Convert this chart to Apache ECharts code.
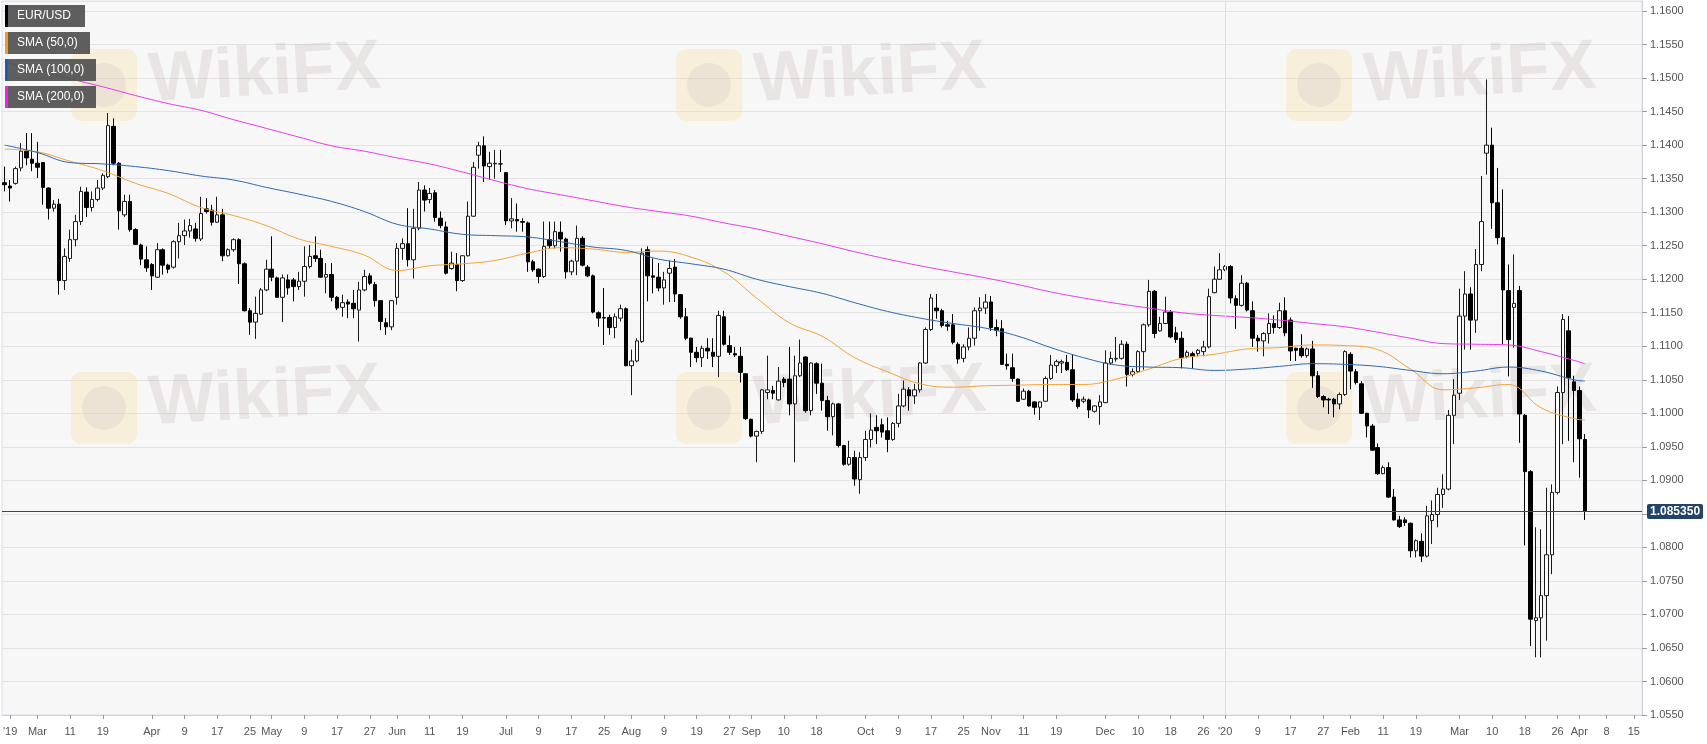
<!DOCTYPE html>
<html>
<head>
<meta charset="utf-8">
<script src="https://cdn.jsdelivr.net/npm/echarts/dist/echarts.min.js"></script>
<style>
html,body{margin:0;padding:0;background:#ffffff;}
#chart{width:1707px;height:744px;}
</style>
</head>
<body>
<div id="chart"></div>
<script>
// ---------- DATA ----------
// Daily EUR/USD candles [open, high, low, close], one per weekday starting 2019-02-21
const candles = [
[1.1344,1.1368,1.1331,1.1341],[1.1339,1.1348,1.1316,1.1336],[1.1343,1.1368,1.1341,1.1365],[1.1366,1.1403,1.1361,1.1391],
[1.1391,1.1418,1.1370,1.1381],[1.1379,1.1418,1.1361,1.1373],[1.1373,1.1405,1.1351,1.1367],[1.1374,1.1375,1.1311,1.1337],
[1.1336,1.1337,1.1289,1.1306],[1.1306,1.1318,1.1301,1.1312],[1.1312,1.1320,1.1177,1.1198],[1.1198,1.1246,1.1184,1.1234],
[1.1231,1.1274,1.1226,1.1259],[1.1259,1.1296,1.1249,1.1286],[1.1286,1.1338,1.1281,1.1331],[1.1330,1.1337,1.1293,1.1307],
[1.1307,1.1331,1.1301,1.1319],[1.1319,1.1348,1.1316,1.1336],[1.1336,1.1358,1.1333,1.1355],[1.1353,1.1448,1.1351,1.1429],
[1.1428,1.1440,1.1370,1.1373],[1.1373,1.1375,1.1274,1.1302],[1.1296,1.1326,1.1293,1.1316],[1.1316,1.1326,1.1271,1.1274],
[1.1274,1.1276,1.1251,1.1252],[1.1251,1.1253,1.1221,1.1230],[1.1229,1.1249,1.1211,1.1217],[1.1222,1.1224,1.1184,1.1205],
[1.1203,1.1254,1.1202,1.1244],[1.1244,1.1246,1.1207,1.1221],[1.1221,1.1223,1.1209,1.1215],[1.1218,1.1258,1.1216,1.1256],
[1.1256,1.1284,1.1231,1.1265],[1.1265,1.1289,1.1251,1.1272],[1.1272,1.1290,1.1262,1.1280],[1.1275,1.1284,1.1256,1.1261],
[1.1260,1.1323,1.1257,1.1298],[1.1305,1.1321,1.1298,1.1301],[1.1303,1.1311,1.1280,1.1285],[1.1285,1.1323,1.1284,1.1296],
[1.1296,1.1305,1.1227,1.1235],[1.1235,1.1246,1.1234,1.1244],[1.1244,1.1261,1.1241,1.1259],[1.1259,1.1261,1.1193,1.1223],
[1.1223,1.1225,1.1152,1.1153],[1.1153,1.1157,1.1117,1.1136],[1.1136,1.1174,1.1111,1.1149],[1.1148,1.1187,1.1147,1.1184],
[1.1184,1.1229,1.1182,1.1215],[1.1215,1.1264,1.1197,1.1203],[1.1202,1.1204,1.1172,1.1173],[1.1173,1.1207,1.1136,1.1202],
[1.1199,1.1207,1.1177,1.1187],[1.1199,1.1202,1.1167,1.1189],[1.1189,1.1211,1.1184,1.1197],[1.1197,1.1249,1.1174,1.1219],
[1.1219,1.1251,1.1216,1.1234],[1.1235,1.1264,1.1226,1.1231],[1.1231,1.1244,1.1202,1.1203],[1.1203,1.1224,1.1179,1.1207],
[1.1207,1.1224,1.1167,1.1173],[1.1173,1.1175,1.1154,1.1157],[1.1158,1.1177,1.1144,1.1165],[1.1166,1.1170,1.1142,1.1163],
[1.1164,1.1184,1.1142,1.1156],[1.1154,1.1196,1.1107,1.1184],[1.1184,1.1214,1.1182,1.1204],[1.1205,1.1209,1.1191,1.1194],
[1.1192,1.1196,1.1159,1.1168],[1.1168,1.1169,1.1124,1.1137],[1.1135,1.1142,1.1117,1.1129],[1.1129,1.1169,1.1124,1.1168],
[1.1173,1.1254,1.1162,1.1246],[1.1246,1.1261,1.1229,1.1253],[1.1253,1.1306,1.1219,1.1229],[1.1229,1.1305,1.1201,1.1276],
[1.1276,1.1345,1.1273,1.1333],[1.1333,1.1340,1.1301,1.1318],[1.1319,1.1336,1.1313,1.1328],[1.1329,1.1333,1.1286,1.1292],
[1.1291,1.1301,1.1276,1.1280],[1.1278,1.1286,1.1207,1.1209],[1.1216,1.1241,1.1214,1.1224],[1.1222,1.1239,1.1182,1.1198],
[1.1198,1.1236,1.1196,1.1235],[1.1235,1.1316,1.1234,1.1294],[1.1294,1.1375,1.1293,1.1367],[1.1385,1.1405,1.1365,1.1399],
[1.1399,1.1413,1.1345,1.1369],[1.1368,1.1390,1.1348,1.1373],[1.1372,1.1393,1.1350,1.1373],[1.1372,1.1393,1.1360,1.1372],
[1.1359,1.1360,1.1281,1.1287],[1.1287,1.1321,1.1276,1.1290],[1.1289,1.1313,1.1271,1.1287],[1.1286,1.1291,1.1271,1.1285],
[1.1284,1.1286,1.1211,1.1226],[1.1226,1.1229,1.1211,1.1214],[1.1215,1.1216,1.1194,1.1204],[1.1204,1.1286,1.1202,1.1249],
[1.1259,1.1286,1.1246,1.1250],[1.1250,1.1286,1.1246,1.1271],[1.1270,1.1286,1.1241,1.1260],[1.1260,1.1262,1.1201,1.1211],
[1.1211,1.1229,1.1206,1.1227],[1.1227,1.1280,1.1206,1.1261],[1.1261,1.1264,1.1219,1.1221],[1.1218,1.1221,1.1203,1.1205],
[1.1205,1.1207,1.1149,1.1151],[1.1150,1.1152,1.1129,1.1142],[1.1143,1.1187,1.1102,1.1142],[1.1143,1.1147,1.1117,1.1128],
[1.1128,1.1149,1.1112,1.1144],[1.1142,1.1162,1.1137,1.1156],[1.1156,1.1158,1.1070,1.1071],[1.1071,1.1095,1.1027,1.1078],
[1.1078,1.1112,1.1076,1.1108],[1.1107,1.1246,1.1105,1.1239],[1.1244,1.1249,1.1167,1.1205],[1.1205,1.1231,1.1179,1.1203],
[1.1203,1.1224,1.1182,1.1187],[1.1187,1.1211,1.1162,1.1199],[1.1209,1.1228,1.1166,1.1216],[1.1218,1.1230,1.1166,1.1178],
[1.1177,1.1178,1.1141,1.1144],[1.1144,1.1157,1.1109,1.1112],[1.1112,1.1113,1.1069,1.1091],[1.1091,1.1099,1.1076,1.1083],
[1.1083,1.1101,1.1069,1.1097],[1.1097,1.1112,1.1081,1.1093],[1.1091,1.1112,1.1069,1.1085],[1.1085,1.1153,1.1054,1.1146],
[1.1144,1.1153,1.1101,1.1103],[1.1101,1.1116,1.1087,1.1091],[1.1089,1.1099,1.1084,1.1087],[1.1085,1.1099,1.1046,1.1061],
[1.1059,1.1060,1.0990,1.0992],[1.0991,1.0992,1.0964,1.0966],[1.0966,1.0974,1.0927,1.0973],[1.0973,1.1036,1.0969,1.1035],
[1.1031,1.1086,1.1021,1.1035],[1.1034,1.1041,1.1021,1.1030],[1.1020,1.1069,1.1019,1.1048],[1.1051,1.1054,1.1039,1.1046],
[1.1051,1.1099,1.0997,1.1014],[1.1014,1.1086,1.0927,1.1056],[1.1056,1.1110,1.1054,1.1075],[1.1084,1.1085,1.1001,1.1004],
[1.1004,1.1076,1.0997,1.1075],[1.1074,1.1076,1.1029,1.1045],[1.1045,1.1074,1.1004,1.1019],[1.1019,1.1026,1.0974,1.0995],
[1.0995,1.1016,1.0967,1.1014],[1.1014,1.1015,1.0949,1.0952],[1.0952,1.0953,1.0922,1.0924],[1.0924,1.0959,1.0922,1.0934],
[1.0934,1.0944,1.0892,1.0902],[1.0901,1.0942,1.0880,1.0934],[1.0934,1.0974,1.0929,1.0961],[1.0961,1.1000,1.0949,1.0975],
[1.0979,1.0997,1.0954,1.0974],[1.0983,1.0992,1.0964,1.0972],[1.0974,1.0994,1.0942,1.0961],[1.0961,1.0987,1.0959,1.0985],
[1.0985,1.1029,1.0979,1.1011],[1.1011,1.1049,1.1009,1.1036],[1.1035,1.1039,1.1004,1.1026],[1.1026,1.1044,1.1014,1.1035],
[1.1035,1.1076,1.1031,1.1075],[1.1075,1.1128,1.1074,1.1125],[1.1125,1.1178,1.1123,1.1172],[1.1157,1.1178,1.1141,1.1153],
[1.1153,1.1156,1.1128,1.1131],[1.1132,1.1138,1.1123,1.1130],[1.1132,1.1148,1.1103,1.1106],[1.1103,1.1106,1.1074,1.1081],
[1.1082,1.1103,1.1076,1.1099],[1.1099,1.1128,1.1094,1.1112],[1.1112,1.1158,1.1101,1.1153],[1.1153,1.1173,1.1123,1.1157],
[1.1157,1.1178,1.1148,1.1166],[1.1166,1.1175,1.1123,1.1128],[1.1128,1.1140,1.1115,1.1124],[1.1126,1.1139,1.1072,1.1073],
[1.1073,1.1089,1.1065,1.1071],[1.1068,1.1089,1.1047,1.1052],[1.1051,1.1052,1.1017,1.1018],[1.1021,1.1037,1.1020,1.1033],
[1.1033,1.1035,1.1010,1.1011],[1.1017,1.1018,1.0998,1.1009],[1.1009,1.1018,1.0990,1.1017],[1.1018,1.1055,1.1017,1.1052],
[1.1052,1.1087,1.1050,1.1072],[1.1071,1.1080,1.1060,1.1077],[1.1075,1.1080,1.1060,1.1077],[1.1076,1.1087,1.1063,1.1065],
[1.1065,1.1087,1.1017,1.1020],[1.1021,1.1030,1.1007,1.1010],[1.1018,1.1025,1.1015,1.1021],[1.1020,1.1022,1.0993,1.1005],
[1.1003,1.1012,1.1001,1.1011],[1.1010,1.1027,1.0983,1.1017],[1.1016,1.1094,1.1015,1.1075],[1.1075,1.1092,1.1072,1.1082],
[1.1081,1.1114,1.1077,1.1082],[1.1082,1.1109,1.1080,1.1103],[1.1103,1.1107,1.1040,1.1058],[1.1058,1.1067,1.1055,1.1062],
[1.1062,1.1094,1.1060,1.1092],[1.1092,1.1134,1.1065,1.1132],[1.1132,1.1199,1.1129,1.1182],[1.1182,1.1184,1.1112,1.1119],
[1.1123,1.1144,1.1122,1.1134],[1.1134,1.1174,1.1133,1.1151],[1.1151,1.1154,1.1112,1.1114],[1.1120,1.1129,1.1105,1.1110],
[1.1112,1.1122,1.1067,1.1083],[1.1085,1.1094,1.1082,1.1091],[1.1089,1.1092,1.1067,1.1085],[1.1089,1.1096,1.1085,1.1094],
[1.1092,1.1108,1.1085,1.1099],[1.1099,1.1186,1.1097,1.1174],[1.1180,1.1219,1.1179,1.1200],[1.1200,1.1239,1.1199,1.1214],
[1.1214,1.1221,1.1212,1.1219],[1.1219,1.1221,1.1164,1.1172],[1.1171,1.1176,1.1126,1.1161],[1.1161,1.1206,1.1159,1.1194],
[1.1194,1.1196,1.1152,1.1154],[1.1153,1.1167,1.1099,1.1112],[1.1112,1.1117,1.1092,1.1108],[1.1108,1.1121,1.1085,1.1119],
[1.1119,1.1149,1.1104,1.1134],[1.1134,1.1146,1.1119,1.1128],[1.1128,1.1165,1.1126,1.1153],[1.1153,1.1173,1.1115,1.1120],
[1.1139,1.1143,1.1078,1.1093],[1.1097,1.1098,1.1078,1.1094],[1.1097,1.1118,1.1083,1.1086],[1.1086,1.1098,1.1083,1.1096],
[1.1096,1.1108,1.1038,1.1056],[1.1056,1.1063,1.1023,1.1025],[1.1025,1.1027,1.1009,1.1020],[1.1021,1.1023,1.0999,1.1020],
[1.1021,1.1023,1.0994,1.1014],[1.1014,1.1031,1.1006,1.1028],[1.1028,1.1094,1.1026,1.1092],[1.1088,1.1091,1.1036,1.1063],
[1.1062,1.1066,1.1043,1.1046],[1.1044,1.1048,1.0999,1.1000],[1.1000,1.1001,1.0964,1.0981],[1.0981,1.0984,1.0944,1.0945],
[1.0949,1.0955,1.0908,1.0910],[1.0910,1.0922,1.0909,1.0919],[1.0919,1.0927,1.0874,1.0875],[1.0875,1.0887,1.0840,1.0841],
[1.0841,1.0847,1.0829,1.0831],[1.0841,1.0845,1.0832,1.0837],[1.0836,1.0837,1.0785,1.0795],[1.0795,1.0812,1.0785,1.0810],
[1.0809,1.0821,1.0778,1.0787],[1.0787,1.0862,1.0785,1.0847],[1.0840,1.0870,1.0805,1.0849],[1.0849,1.0889,1.0830,1.0879],
[1.0879,1.0909,1.0859,1.0887],[1.0887,1.1005,1.0885,1.0997],[1.0997,1.1051,1.0954,1.1027],[1.1030,1.1186,1.1020,1.1145],
[1.1145,1.1212,1.1095,1.1178],[1.1178,1.1188,1.1095,1.1139],[1.1139,1.1245,1.1120,1.1222],[1.1222,1.1354,1.1212,1.1286],
[1.1388,1.1498,1.1356,1.1400],[1.1400,1.1426,1.1275,1.1314],[1.1314,1.1366,1.1252,1.1262],[1.1262,1.1334,1.1103,1.1184],
[1.1183,1.1222,1.1055,1.1110],[1.1158,1.1237,1.1098,1.1164],[1.1183,1.1190,1.0956,1.0999],[1.0997,1.0999,1.0803,1.0913],
[1.0913,1.0915,1.0653,1.0693],[1.0691,1.0830,1.0636,1.0695],[1.0695,1.0827,1.0636,1.0728],[1.0728,1.0889,1.0661,1.0789],
[1.0789,1.0894,1.0760,1.0882],[1.0882,1.1040,1.0879,1.1031],[1.1031,1.1148,1.0954,1.1140],[1.1123,1.1145,1.0959,1.1053],
[1.1047,1.1056,1.0927,1.1034],[1.1034,1.1040,1.0904,1.0962],[1.0961,1.0969,1.0841,1.08535]
];
const lastPrice = 1.08535;

// Moving averages at these day indices
const smaIdx = [0,6,12,18,24,30,36,42,48,54,60,66,72,78,84,90,96,102,108,114,120,126,132,138,144,150,156,162,168,174,180,186,192,198,204,210,216,222,228,234,240,246,252,258,264,270,276,282,288,290];
const sma50 = [1.1394,1.1390,1.1376,1.1362,1.1343,1.1328,1.1307,1.1295,1.1280,1.1260,1.1249,1.1236,1.1213,1.1220,1.1223,1.1228,1.1239,1.1247,1.1245,1.1240,1.1242,1.1233,1.1211,1.1172,1.1135,1.1115,1.1083,1.1062,1.1044,1.1039,1.1041,1.1042,1.1043,1.1043,1.1051,1.1066,1.1082,1.1088,1.1096,1.1098,1.1102,1.1101,1.1095,1.1066,1.1035,1.1038,1.1043,1.1008,1.0992,1.0990];
const sma100 = [1.1400,1.1389,1.1374,1.1372,1.1368,1.1362,1.1354,1.1348,1.1337,1.1327,1.1316,1.1301,1.1282,1.1275,1.1267,1.1265,1.1263,1.1256,1.1248,1.1243,1.1230,1.1223,1.1215,1.1200,1.1189,1.1179,1.1165,1.1152,1.1142,1.1134,1.1127,1.1115,1.1098,1.1083,1.1072,1.1069,1.1068,1.1064,1.1066,1.1070,1.1074,1.1073,1.1070,1.1064,1.1059,1.1063,1.1069,1.1063,1.1050,1.1048];
const sma200 = [1.1524,1.1512,1.1499,1.1487,1.1474,1.1462,1.1452,1.1438,1.1425,1.1412,1.1399,1.1391,1.1381,1.1372,1.1360,1.1347,1.1335,1.1326,1.1317,1.1308,1.1301,1.1294,1.1284,1.1275,1.1264,1.1253,1.1241,1.1230,1.1220,1.1211,1.1202,1.1192,1.1181,1.1172,1.1164,1.1157,1.1150,1.1146,1.1143,1.1139,1.1134,1.1129,1.1121,1.1112,1.1104,1.1103,1.1102,1.1092,1.1079,1.1074];

// x-axis tick labels
const tickDates = ['2019-02-22','2019-03-01','2019-03-11','2019-03-19','2019-04-01','2019-04-09','2019-04-17','2019-04-25','2019-05-01','2019-05-09','2019-05-17','2019-05-27','2019-06-03','2019-06-11','2019-06-19','2019-07-01','2019-07-09','2019-07-17','2019-07-25','2019-08-01','2019-08-09','2019-08-19','2019-08-27','2019-09-02','2019-09-10','2019-09-18','2019-10-01','2019-10-09','2019-10-17','2019-10-25','2019-11-01','2019-11-11','2019-11-19','2019-12-02','2019-12-10','2019-12-18','2019-12-26','2020-01-01','2020-01-09','2020-01-17','2020-01-27','2020-02-03','2020-02-11','2020-02-19','2020-03-02','2020-03-10','2020-03-18','2020-03-26','2020-04-01','2020-04-08','2020-04-15'];
const tickTexts = ["'19",'Mar','11','19','Apr','9','17','25','May','9','17','27','Jun','11','19','Jul','9','17','25','Aug','9','19','27','Sep','10','18','Oct','9','17','25','Nov','11','19','Dec','10','18','26',"'20",'9','17','27','Feb','11','19','Mar','10','18','26','Apr','8','15'];

// Categories: every weekday from 2019-02-21 through 2020-04-16
const dayCount = 301;
const dates = [];
(function () {
  const d = new Date(Date.UTC(2019, 1, 21));
  while (dates.length < dayCount) {
    const wd = d.getUTCDay();
    if (wd !== 0 && wd !== 6) dates.push(d.toISOString().slice(0, 10));
    d.setUTCDate(d.getUTCDate() + 1);
  }
})();

const legendItems = [
  {text: 'EUR/USD', color: '#000000'},
  {text: 'SMA (50,0)', color: '#f39c1d'},
  {text: 'SMA (100,0)', color: '#1f5eae'},
  {text: 'SMA (200,0)', color: '#ee22ee'}
];

// ---------- CHART ----------
const tickMap = new Map(tickDates.map((d, k) => [d, tickTexts[k]]));
const FONT = 'Arial, "Liberation Sans", Helvetica, sans-serif';

const candleData = candles.map(c => [c[0], c[3], c[2], c[1]]);
const mk = arr => smaIdx.map((k, j) => [k, arr[j]]);

const legendW = [80, 85, 91, 91];
const graphics = [];
// faint watermarks
[[71, 49], [676, 49], [1286, 49], [71, 372], [676, 372], [1286, 372]].forEach(p => {
  graphics.push({type: 'rect', z: 1, silent: true, shape: {x: p[0], y: p[1], width: 66, height: 72, r: 10},
    style: {fill: 'rgba(250,222,150,0.30)'}});
  graphics.push({type: 'circle', z: 1, silent: true, shape: {cx: p[0] + 33, cy: p[1] + 36, r: 22},
    style: {fill: 'rgba(200,188,195,0.24)'}});
  graphics.push({type: 'text', z: 1, silent: true, x: p[0] + 80, y: p[1] + 68, rotation: 0.06,
    style: {text: 'WikiFX', font: 'bold 70px ' + FONT, fill: 'rgba(190,175,175,0.25)', textVerticalAlign: 'bottom'}});
});
legendItems.forEach((it, k) => {
  const y = 5 + k * 27;
  graphics.push({type: 'rect', z: 20, shape: {x: 5, y: y, width: legendW[k], height: 22},
    style: {fill: 'rgba(80,80,80,0.92)'}});
  graphics.push({type: 'rect', z: 21, shape: {x: 5, y: y, width: 3, height: 22}, style: {fill: it.color}});
  graphics.push({type: 'text', z: 21, x: 17, y: y + 11,
    style: {text: it.text, font: '12px ' + FONT, fill: '#ffffff', textVerticalAlign: 'middle'}});
});

const chart = echarts.init(document.getElementById('chart'), null, {renderer: 'canvas'});
chart.setOption({
  animation: false,
  backgroundColor: '#ffffff',
  grid: {left: 2, right: 65, top: 1, bottom: 29, show: true, backgroundColor: '#f7f7f7',
    borderColor: '#dcdce8', borderWidth: 1},
  xAxis: {
    type: 'category', data: dates, boundaryGap: true,
    axisLine: {show: true, lineStyle: {color: '#cfcfdb'}},
    axisTick: {show: true, length: 4, alignWithLabel: true, lineStyle: {color: '#999'},
      interval: (i, v) => tickMap.has(v)},
    axisLabel: {color: '#555', fontSize: 11, fontFamily: FONT, margin: 11, hideOverlap: false,
      interval: (i, v) => tickMap.has(v), formatter: v => tickMap.get(v) || ''},
    splitLine: {show: false}
  },
  yAxis: {
    type: 'value', position: 'right', min: 1.055, max: 1.1615, interval: 0.005,
    axisLine: {show: true, lineStyle: {color: '#cfcfdb'}},
    axisTick: {show: true, length: 5, lineStyle: {color: '#999'}},
    axisLabel: {color: '#555', fontSize: 11, fontFamily: FONT, margin: 8, showMaxLabel: false,
      formatter: v => v.toFixed(4)},
    splitLine: {show: true, lineStyle: {color: '#e3e3e3', width: 1}}
  },
  series: [
    {
      type: 'candlestick', name: 'EUR/USD', data: candleData, barWidth: 4, z: 2,
      itemStyle: {color: '#ffffff', color0: '#000000', borderColor: '#1a1a1a', borderColor0: '#000000', borderWidth: 1},
      markLine: {
        silent: true, symbol: ['none', 'none'], animation: false, precision: 6,
        data: [
          {xAxis: '2020-01-01', lineStyle: {color: '#dedede', width: 1, type: 'solid'}, label: {show: false}},
          {yAxis: lastPrice, lineStyle: {color: '#2a4a73', width: 1, type: 'solid'},
            label: {show: true, position: 'end', distance: 5, formatter: lastPrice.toFixed(6),
              backgroundColor: '#244369', color: '#ffffff', fontWeight: 'bold', fontSize: 12, fontFamily: FONT,
              padding: [2, 3, 1, 3], borderRadius: 2}}
        ]
      }
    },
    {type: 'line', name: 'SMA (50,0)', data: mk(sma50), showSymbol: false, smooth: 0.4, z: 3,
      lineStyle: {color: '#f3a33a', width: 1}},
    {type: 'line', name: 'SMA (100,0)', data: mk(sma100), showSymbol: false, smooth: 0.4, z: 3,
      lineStyle: {color: '#2f68ad', width: 1}},
    {type: 'line', name: 'SMA (200,0)', data: mk(sma200), showSymbol: false, smooth: 0.4, z: 3,
      lineStyle: {color: '#e83be8', width: 1}}
  ],
  graphic: {elements: graphics}
});
</script>
</body>
</html>
